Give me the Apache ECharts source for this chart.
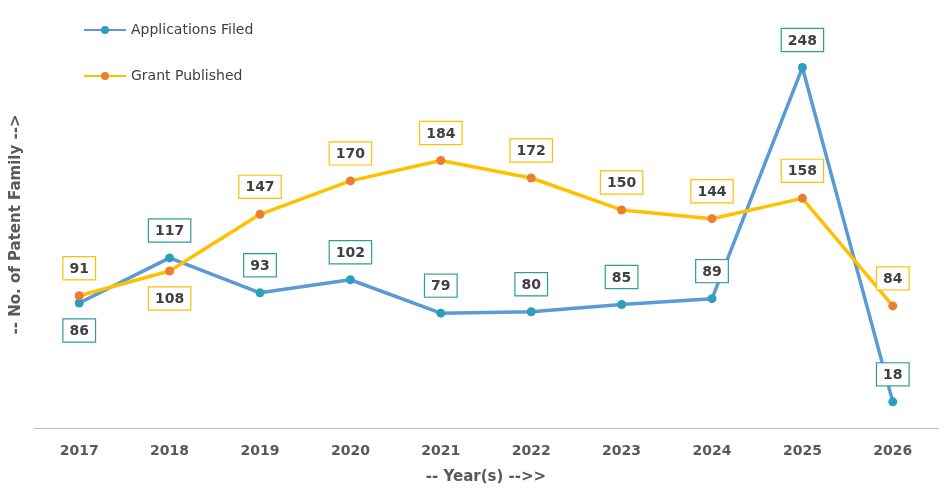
<!DOCTYPE html>
<html><head><meta charset="utf-8">
<script src="https://cdn.jsdelivr.net/npm/echarts@6/dist/echarts.min.js"></script>
<style>html,body{margin:0;background:#fff}#c{width:944px;height:503px}</style>
</head><body><div id="c"></div>
<script>
var years = ['2017','2018','2019','2020','2021','2022','2023','2024','2025','2026'];
var filed = [86, 117, 93, 102, 79, 80, 85, 89, 248, 18];
var granted = [91, 108, 147, 170, 184, 172, 150, 144, 158, 84];
var filedLabelPos = ['bottom','top','top','top','top','top','top','top','top','top'];
var grantLabelPos = ['top','bottom','top','top','top','top','top','top','top','top'];

var chart = echarts.init(document.getElementById('c'));
function lbl(border) {
  return {
    show: true, fontFamily: 'DejaVu Sans', fontWeight: 'bold', fontSize: 14, color: '#404040',
    backgroundColor: '#fff', borderColor: border, borderWidth: 1.2, padding: [5, 6, 3, 6], distance: 12
  };
}
function pts(vals, pos) {
  return vals.map(function (v, i) { return { value: v, label: { position: pos[i] } }; });
}
chart.setOption({
  animation: false,
  textStyle: { fontFamily: 'DejaVu Sans' },
  grid: { left: 34, right: 6, top: 21, bottom: 75 },
  legend: {
    orient: 'vertical', left: 78, top: 18, itemGap: 32, itemWidth: 42, itemHeight: 10,
    textStyle: { fontSize: 14, color: '#404040' },
    data: ['Applications Filed', 'Grant Published']
  },
  xAxis: {
    type: 'category', data: years, boundaryGap: true,
    name: '-- Year(s) -->>', nameLocation: 'middle', nameGap: 42,
    nameTextStyle: { fontSize: 15, fontWeight: 'bold', color: '#595959' },
    axisLine: { lineStyle: { color: '#bfbfbf' } }, axisTick: { show: false },
    axisLabel: { fontSize: 14, fontWeight: 'bold', color: '#595959', margin: 16 }
  },
  yAxis: {
    type: 'value', min: 0, max: 280,
    name: '-- No. of Patent Family -->', nameLocation: 'middle', nameGap: 10,
    nameTextStyle: { fontSize: 15, fontWeight: 'bold', color: '#595959' },
    axisLabel: { show: false }, splitLine: { show: false },
    axisLine: { show: false }, axisTick: { show: false }
  },
  series: [
    {
      name: 'Applications Filed', type: 'line', data: pts(filed, filedLabelPos),
      symbol: 'circle', symbolSize: 9,
      lineStyle: { color: '#5b9bd5', width: 3.5 },
      itemStyle: { color: '#2e9ebd' },
      label: lbl('#2e9e9a')
    },
    {
      name: 'Grant Published', type: 'line', data: pts(granted, grantLabelPos),
      symbol: 'circle', symbolSize: 9,
      lineStyle: { color: '#ffc000', width: 3.5 },
      itemStyle: { color: '#ed7d31' },
      label: lbl('#ffc000')
    }
  ]
});
</script></body></html>
